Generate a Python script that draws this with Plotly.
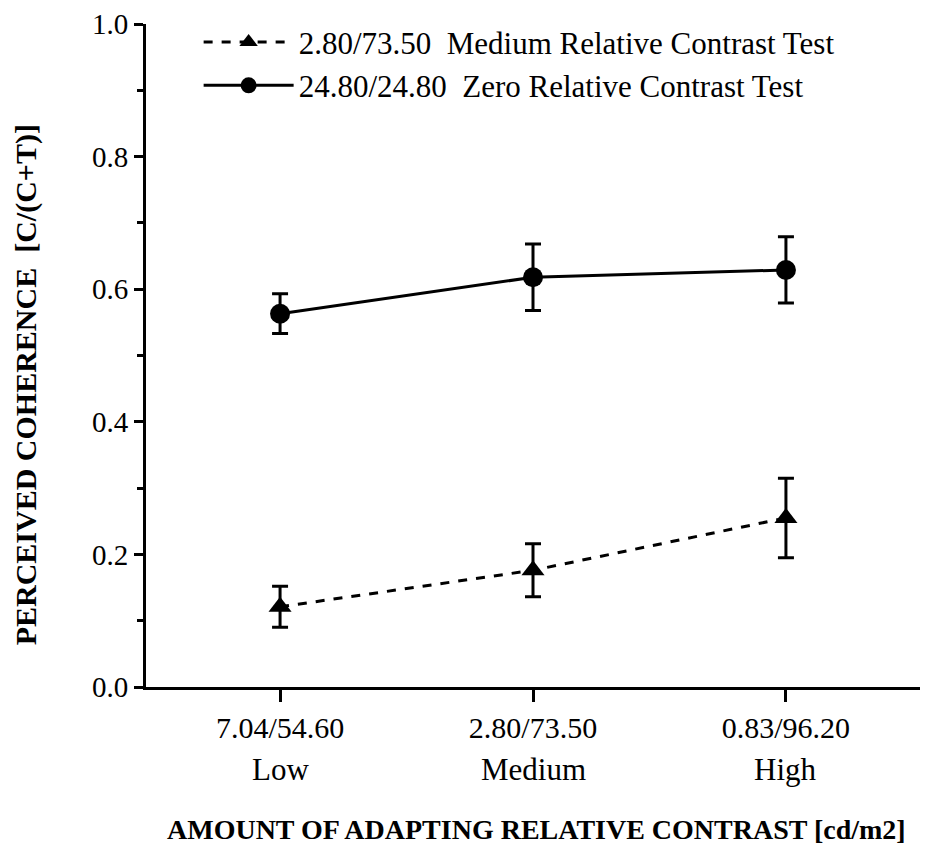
import plotly.graph_objects as go

categories = ["7.04/54.60", "2.80/73.50", "0.83/96.20"]
levels = ["Low", "Medium", "High"]
medium_name = "2.80/73.50  Medium Relative Contrast Test"
zero_name = "24.80/24.80  Zero Relative Contrast Test"
medium_vals = [0.121, 0.176, 0.255]
medium_err = [0.031, 0.040, 0.060]
zero_vals = [0.563, 0.618, 0.629]
zero_err = [0.030, 0.050, 0.050]

xpos = list(range(len(categories)))
FONT = "Liberation Serif"

fig = go.Figure()
fig.add_trace(go.Scatter(
    x=xpos, y=medium_vals, name=medium_name, mode="lines+markers",
    line=dict(color="black", width=3, dash="dash"),
    marker=dict(symbol="triangle-up", size=20, color="black"),
    error_y=dict(type="data", array=medium_err, color="black", thickness=3, width=8),
    legendgroup="a",
))
fig.add_trace(go.Scatter(
    x=xpos, y=zero_vals, name=zero_name, mode="lines+markers",
    line=dict(color="black", width=3),
    marker=dict(symbol="circle", size=20, color="black"),
    error_y=dict(type="data", array=zero_err, color="black", thickness=3, width=8),
    legendgroup="b",
))

for i, lv in enumerate(levels):
    fig.add_annotation(x=xpos[i], y=-0.124, xref="x", yref="paper", text=lv,
                       yanchor="middle", xanchor="center",
                       showarrow=False, font=dict(family=FONT, size=31, color="black"))

fig.add_annotation(x=0.505, y=-0.215, xref="paper", yref="paper",
                   text="<b>AMOUNT OF ADAPTING RELATIVE CONTRAST [cd/m2]</b>",
                   xanchor="center", yanchor="middle", showarrow=False,
                   font=dict(family=FONT, size=28, color="black"))
fig.add_annotation(x=-0.155, y=0.455, xref="paper", yref="paper",
                   text="<b>PERCEIVED COHERENCE  [C/(C+T)]</b>", textangle=-90,
                   xanchor="center", yanchor="middle", showarrow=False,
                   font=dict(family=FONT, size=30, color="black"))

fig.update_layout(
    width=930, height=848,
    margin=dict(l=146, r=10, t=24, b=161),
    plot_bgcolor="white", paper_bgcolor="white",
    font=dict(family=FONT, color="black"),
    showlegend=True,
    legend=dict(x=0.068, y=1.013, xanchor="left", yanchor="top",
                font=dict(family=FONT, size=31, color="black"),
                bgcolor="rgba(0,0,0,0)", tracegroupgap=0, itemwidth=90),
    xaxis=dict(
        range=[-0.53, 2.53], tickvals=xpos, ticktext=categories, automargin=False,
        showgrid=False, zeroline=False, showline=True, linecolor="black", linewidth=3,
        ticks="outside", ticklen=12, tickwidth=3, tickcolor="black",
        tickfont=dict(family=FONT, size=30, color="black"),
    ),
    yaxis=dict(
        range=[0, 1.0], tickvals=[0, 0.2, 0.4, 0.6, 0.8, 1.0], automargin=False,
        ticktext=["0.0", "0.2", "0.4", "0.6", "0.8", "1.0"],
        showgrid=False, zeroline=False, showline=True, linecolor="black", linewidth=3,
        ticks="outside", ticklen=9, tickwidth=3, tickcolor="black",
        tickfont=dict(family=FONT, size=29, color="black"),
        minor=dict(tickvals=[0.1, 0.3, 0.5, 0.7, 0.9], ticks="outside", ticklen=6,
                   tickwidth=3, tickcolor="black", showgrid=False),
    ),
)

fig.write_html("out.html")
